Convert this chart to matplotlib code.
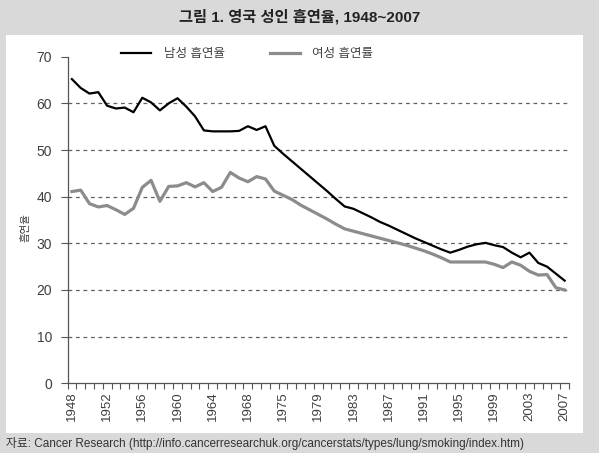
import matplotlib.pyplot as plt
from matplotlib.patches import Rectangle

plt.rcParams['font.family'] = ['Liberation Sans', 'Noto Sans CJK KR']

# categories (survey years)
years = list(range(1948, 1969)) + [1970, 1972, 1974] + list(range(1975, 2008))

male = [65.2, 63.3, 62.1, 62.4, 59.5, 58.9, 59.1, 58.1, 61.2, 60.2,
        58.5, 60.0, 61.1, 59.3, 57.2, 54.2, 54.0, 54.0, 54.0, 54.1,
        55.1, 54.3, 55.1, 50.9, 49.2, 47.6, 46.0, 44.4, 42.8, 41.2,
        39.5, 37.9, 37.4, 36.5, 35.6, 34.6, 33.8, 32.9, 32.0, 31.1,
        30.3, 29.5, 28.7, 28.0, 28.6, 29.3, 29.8, 30.1, 29.6, 29.2,
        28.0, 27.0, 28.0, 25.8, 25.0, 23.5, 22.0]

female = [41.1, 41.4, 38.5, 37.8, 38.1, 37.2, 36.2, 37.5, 42.0, 43.5,
          39.0, 42.2, 42.3, 43.0, 42.1, 43.0, 41.1, 42.0, 45.2, 44.0,
          43.2, 44.3, 43.8, 41.2, 40.3, 39.4, 38.2, 37.2, 36.2, 35.2,
          34.1, 33.1, 32.6, 32.1, 31.6, 31.1, 30.6, 30.1, 29.6, 29.0,
          28.4, 27.7, 26.9, 26.0, 26.0, 26.0, 26.0, 26.0, 25.5, 24.8,
          26.0, 25.3, 24.0, 23.2, 23.3, 20.5, 20.0]

series_labels = ['남성 흡연율', '여성 흡연률']
y_ticks = [0, 10, 20, 30, 40, 50, 60, 70]

fig = plt.figure(figsize=(5.99, 4.53), dpi=100, facecolor='#d9d9d9')
fig.patches.append(Rectangle((6 / 599, 1 - 433 / 453), 577 / 599, 398 / 453,
                             transform=fig.transFigure, facecolor='white',
                             edgecolor='none', zorder=0))

ax = fig.add_axes([0.1127, 0.1539, 0.950 - 0.1127, 0.7209])
ax.set_zorder(2)
ax.set_facecolor('white')

x = list(range(len(years)))
ax.plot(x, male, color='black', lw=1.6, label=series_labels[0], zorder=3)
ax.plot(x, female, color='#8c8c8c', lw=2.3, label=series_labels[1], zorder=2)

ax.set_xlim(-0.5, len(years) - 0.5)
ax.set_ylim(0, 70)
ax.set_yticks(y_ticks)
for v in y_ticks[1:-1]:
    ax.axhline(v, color='#606060', lw=0.9, ls=(0, (3, 3)), zorder=1)

label_idx = x[::4]
ax.set_xticks(label_idx)
ax.set_xticklabels([str(years[i]) for i in label_idx], rotation=90)
ax.set_xticks([i - 0.5 for i in range(len(years) + 1)], minor=True)
ax.tick_params(axis='x', which='major', length=0, pad=6, labelsize=9.5,
               labelcolor='#404040')
ax.tick_params(axis='x', which='minor', length=4, width=0.8, color='#555555')
ax.tick_params(axis='y', length=5, width=0.8, color='#555555', labelsize=10,
               labelcolor='#404040', pad=6)

for s in ['top', 'right']:
    ax.spines[s].set_visible(False)
for s in ['left', 'bottom']:
    ax.spines[s].set_color('#555555')
    ax.spines[s].set_linewidth(0.9)

leg = fig.legend(loc='center left', bbox_to_anchor=(110 / 599, 1 - 54 / 453),
                 ncol=2, frameon=False, fontsize=9, handlelength=2.4,
                 handletextpad=1.0, columnspacing=3.6, labelcolor='#404040')
leg.set_zorder(5)

fig.text(25 / 599, 1 - 228 / 453, '흡연율', rotation=90, fontsize=7.5,
         ha='center', va='center', color='#404040')

fig.text(0.5, 1 - 17 / 453, '그림 1. 영국 성인 흡연율, 1948~2007',
         fontsize=11, fontweight='bold', ha='center', va='center',
         color='#222222')

fig.text(6 / 599, 1 - 444 / 453,
         '자료: Cancer Research (http://info.cancerresearchuk.org/cancerstats/types/lung/smoking/index.htm)',
         fontsize=8.5, ha='left', va='center', color='#333333')

fig.savefig('out.png', dpi=100, facecolor=fig.get_facecolor())
